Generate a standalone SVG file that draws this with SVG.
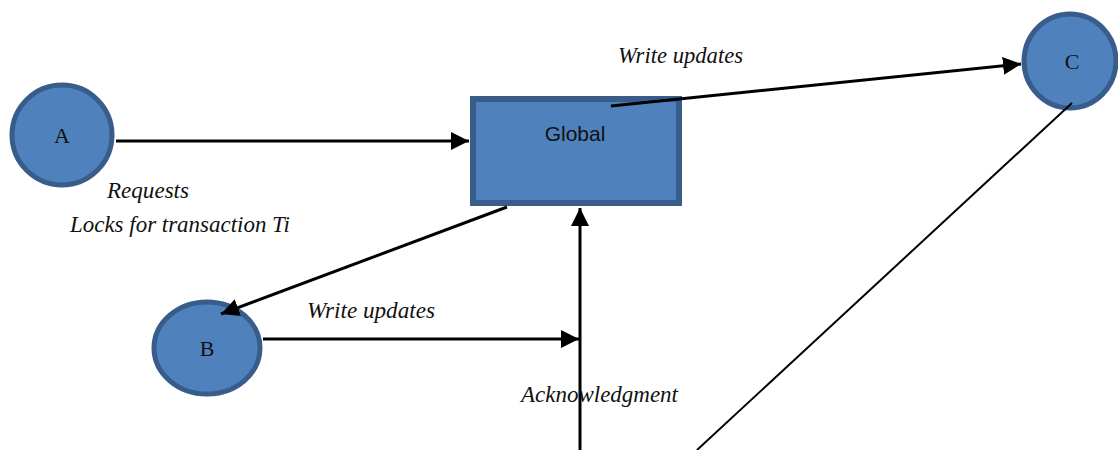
<svg xmlns="http://www.w3.org/2000/svg" width="1118" height="450" viewBox="0 0 1118 450">
<defs>
<style>
.node{fill:#4f81bd;stroke:#385d8a;stroke-width:5}
.lbl{font-family:"Liberation Serif",serif;font-size:22px;fill:#111;text-anchor:middle}
.it{font-family:"Liberation Serif",serif;font-style:italic;font-size:24px;fill:#111}
.edge{stroke:#000;stroke-width:3;fill:none}
.thin{stroke:#000;stroke-width:2;fill:none}
</style>
<marker id="ah" viewBox="0 0 10 10" refX="10" refY="5" markerWidth="6" markerHeight="6" markerUnits="strokeWidth" orient="auto">
<path d="M0,0 L10,5 L0,10 z" fill="#000"/>
</marker>
</defs>
<rect width="1118" height="450" fill="#fff"/>
<g id="node-A">
<circle class="node" cx="62" cy="135" r="50"/>
<text class="lbl" x="62" y="143">A</text>
</g>
<g id="node-Global">
<rect x="473" y="99" width="206" height="104" fill="#4f81bd" stroke="#385d8a" stroke-width="6"/>
<text x="575" y="141" font-family="Liberation Sans, Arial, sans-serif" font-size="21" fill="#111" text-anchor="middle">Global</text>
</g>
<g id="node-C">
<ellipse class="node" cx="1070" cy="61" rx="46" ry="47"/>
<text class="lbl" x="1072" y="69">C</text>
</g>
<g id="node-B">
<ellipse class="node" cx="207" cy="348" rx="53" ry="46"/>
<text class="lbl" x="207" y="356">B</text>
</g>
<g id="connectors">
<line class="edge" x1="116" y1="141" x2="469" y2="141" marker-end="url(#ah)"/>
<line class="edge" x1="611" y1="106" x2="1021" y2="64" marker-end="url(#ah)"/>
<line class="edge" x1="507" y1="207" x2="221" y2="314" marker-end="url(#ah)"/>
<line class="edge" x1="263" y1="339" x2="579" y2="339" marker-end="url(#ah)"/>
<line class="edge" x1="580" y1="450" x2="580" y2="208" marker-end="url(#ah)"/>
<line class="thin" x1="1072" y1="103" x2="697" y2="450"/>
</g>
<g id="labels">
<text class="it" x="618" y="63" textLength="125" lengthAdjust="spacingAndGlyphs">Write updates</text>
<text class="it" x="107" y="198" textLength="82" lengthAdjust="spacingAndGlyphs">Requests</text>
<text class="it" x="70" y="232" textLength="220" lengthAdjust="spacingAndGlyphs">Locks for transaction Ti</text>
<text class="it" x="307" y="318" textLength="128" lengthAdjust="spacingAndGlyphs">Write updates</text>
<text class="it" x="521" y="402" textLength="157" lengthAdjust="spacingAndGlyphs">Acknowledgment</text>
</g>
</svg>
